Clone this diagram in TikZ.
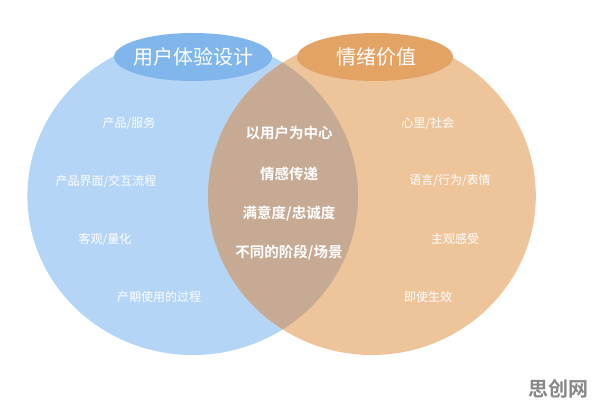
\documentclass[tikz,border=0pt]{standalone}
\usepackage{fontspec}
\newfontfamily\cjk{Noto Sans CJK SC}[BoldFont={Noto Sans CJK SC Bold}]
\definecolor{bluecirc}{RGB}{180,213,246}
\definecolor{bluehead}{RGB}{128,182,236}
\definecolor{orcirc}{RGB}{238,197,155}
\definecolor{orhead}{RGB}{227,163,100}
\definecolor{lens}{RGB}{198,170,147}
\definecolor{wmark}{RGB}{135,135,135}
\tikzset{
  head/.style={font=\cjk\fontsize{20}{22}\selectfont, text=white},
  inner/.style={font=\cjk\bfseries\fontsize{14.5}{16}\selectfont, text=white},
  side/.style={font=\cjk\fontsize{12}{14}\selectfont, text=white},
  wm/.style={font=\cjk\bfseries\fontsize{20}{22}\selectfont, text=wmark},
}
\begin{document}
\begin{tikzpicture}[x=1pt,y=-1pt]
\useasboundingbox (0,0) rectangle (596,406);
\fill[white] (0,0) rectangle (596,406);
% circles
\fill[bluecirc] (192.7,196) ellipse [x radius=165.3, y radius=159];
\fill[bluehead] (193,57) ellipse [x radius=79, y radius=24];
\fill[orcirc] (371.9,196) ellipse [x radius=163.9, y radius=159];
\begin{scope}
  \clip (192.7,196) ellipse [x radius=165.3, y radius=159];
  \fill[lens] (371.9,196) ellipse [x radius=163.9, y radius=159];
\end{scope}
\fill[orhead] (375,57) ellipse [x radius=78, y radius=24];
% headers
\node[head] (h1) at (193,57) {用户体验设计};
\node[head] (h2) at (376,57) {情绪价值};
% centre
\node[inner] (c1) at (289,133) {以用户为中心};
\node[inner] (c2) at (289,174) {情感传递};
\node[inner] (c3) at (289,214) {满意度/忠诚度};
\node[inner] (c4) at (289,253) {不同的阶段/场景};
% left
\node[side] (l1) at (129,124) {产品/服务};
\node[side] (l2) at (106,181) {产品界面/交互流程};
\node[side] (l3) at (105,239) {客观/量化};
\node[side] (l4) at (159,297) {产期使用的过程};
% right
\node[side] (r1) at (428,124) {心里/社会};
\node[side] (r2) at (450,181) {语言/行为/表情};
\node[side] (r3) at (455,239) {主观感受};
\node[side] (r4) at (428,297) {即使生效};
% watermark
\node[wm] (w) at (558,389) {思创网};
\end{tikzpicture}
\end{document}
